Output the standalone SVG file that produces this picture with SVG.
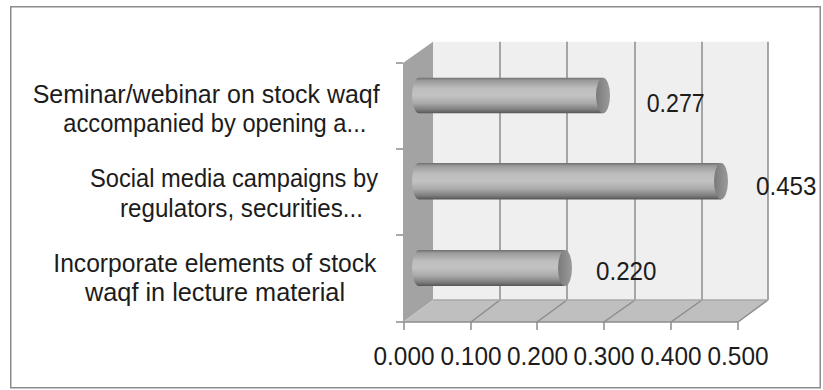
<svg xmlns="http://www.w3.org/2000/svg" width="823" height="390" viewBox="0 0 823 390">
  <defs>
    <linearGradient id="barGrad" x1="0" y1="0" x2="0" y2="1">
      <stop offset="0" stop-color="#6e6e6e"/>
      <stop offset="0.08" stop-color="#9a9a9a"/>
      <stop offset="0.3" stop-color="#bdbdbd"/>
      <stop offset="0.5" stop-color="#c2c2c2"/>
      <stop offset="0.72" stop-color="#a9a9a9"/>
      <stop offset="0.9" stop-color="#7c7c7c"/>
      <stop offset="1" stop-color="#555555"/>
    </linearGradient>
    <linearGradient id="capGrad" x1="0" y1="0" x2="1" y2="0">
      <stop offset="0" stop-color="#7a7a7a"/>
      <stop offset="0.6" stop-color="#8e8e8e"/>
      <stop offset="1" stop-color="#9a9a9a"/>
    </linearGradient>
  </defs>
  <style>
    .grid { stroke: #8c8c8c; stroke-width: 1.5; fill: none; }
    .tick { stroke: #8c8c8c; stroke-width: 1.5; fill: none; }
    .lbl { font-family: "Liberation Sans", Arial, sans-serif; font-size: 26px; fill: #1c1c1c; }
    .body { fill: url(#barGrad); }
    .cap { fill: url(#capGrad); }
  </style>

  <rect x="10.75" y="6.75" width="809.5" height="381" fill="#ffffff" stroke="#8c8c8c" stroke-width="1.5"/>

  <g id="plot-area">
    <polygon points="433,41.7 768,41.7 768,300 433,300" fill="#efefef"/>
    <polygon points="403,63 433,41.7 433,300 403,322" fill="#a3a3a3"/>
    <polygon points="403,322 433,300 768,300 738,322" fill="#bfbfbf"/>
    <g class="grid">
      <line x1="500" y1="41.7" x2="500" y2="300"/>
      <line x1="567" y1="41.7" x2="567" y2="300"/>
      <line x1="635" y1="41.7" x2="635" y2="300"/>
      <line x1="702" y1="41.7" x2="702" y2="300"/>
      <line x1="768" y1="41.7" x2="768" y2="300"/>
      <line x1="471" y1="322" x2="500" y2="300"/>
      <line x1="537" y1="322" x2="567" y2="300"/>
      <line x1="604" y1="322" x2="635" y2="300"/>
      <line x1="671" y1="322" x2="702" y2="300"/>
      <line x1="738" y1="322" x2="768" y2="300"/>
      <line x1="433" y1="300" x2="768" y2="300" stroke="#a8a8a8"/>
    </g>
  </g>

  <g id="axes" class="tick">
    <line x1="396" y1="322" x2="738" y2="322"/>
    <line x1="396" y1="63" x2="403" y2="63"/>
    <line x1="396" y1="149" x2="403" y2="149"/>
    <line x1="396" y1="235" x2="403" y2="235"/>
    <line x1="404" y1="322" x2="404" y2="330"/>
    <line x1="471" y1="322" x2="471" y2="330"/>
    <line x1="537" y1="322" x2="537" y2="330"/>
    <line x1="604" y1="322" x2="604" y2="330"/>
    <line x1="671" y1="322" x2="671" y2="330"/>
    <line x1="738" y1="322" x2="738" y2="330"/>
  </g>

  <g id="bar-seminar">
    <path class="body" d="M419,77.7 H603 V113.3 H419 A7,17.8 0 0 1 419,77.7 Z"/>
    <ellipse class="cap" cx="603" cy="95.5" rx="7" ry="17.8"/>
  </g>
  <g id="bar-social">
    <path class="body" d="M419,163 H721 V199.4 H419 A7,18.2 0 0 1 419,163 Z"/>
    <ellipse class="cap" cx="721" cy="181.2" rx="7" ry="18.2"/>
  </g>
  <g id="bar-incorporate">
    <path class="body" d="M419,250 H565 V286 H419 A7,18 0 0 1 419,250 Z"/>
    <ellipse class="cap" cx="565" cy="268" rx="7" ry="18"/>
  </g>

  <g id="category-labels" class="lbl">
    <text x="32.7" y="103" textLength="347" lengthAdjust="spacingAndGlyphs">Seminar/webinar on stock waqf</text>
    <text x="63.3" y="132" textLength="303" lengthAdjust="spacingAndGlyphs">accompanied by opening a...</text>
    <text x="90" y="187" textLength="288" lengthAdjust="spacingAndGlyphs">Social media campaigns by</text>
    <text x="120" y="217" textLength="243" lengthAdjust="spacingAndGlyphs">regulators, securities...</text>
    <text x="53.3" y="272" textLength="323" lengthAdjust="spacingAndGlyphs">Incorporate elements of stock</text>
    <text x="85" y="301" textLength="260" lengthAdjust="spacingAndGlyphs">waqf in lecture material</text>
  </g>

  <g id="axis-labels" class="lbl" text-anchor="middle">
    <text x="404" y="365" textLength="61" lengthAdjust="spacingAndGlyphs">0.000</text>
    <text x="471" y="365" textLength="61" lengthAdjust="spacingAndGlyphs">0.100</text>
    <text x="537.5" y="365" textLength="61" lengthAdjust="spacingAndGlyphs">0.200</text>
    <text x="604" y="365" textLength="61" lengthAdjust="spacingAndGlyphs">0.300</text>
    <text x="671" y="365" textLength="61" lengthAdjust="spacingAndGlyphs">0.400</text>
    <text x="738" y="365" textLength="61" lengthAdjust="spacingAndGlyphs">0.500</text>
  </g>

  <g id="value-labels" class="lbl">
    <text x="646.7" y="111.7" textLength="58" lengthAdjust="spacingAndGlyphs">0.277</text>
    <text x="756" y="195" textLength="60.5" lengthAdjust="spacingAndGlyphs">0.453</text>
    <text x="596" y="280" textLength="60.5" lengthAdjust="spacingAndGlyphs">0.220</text>
  </g>
</svg>
